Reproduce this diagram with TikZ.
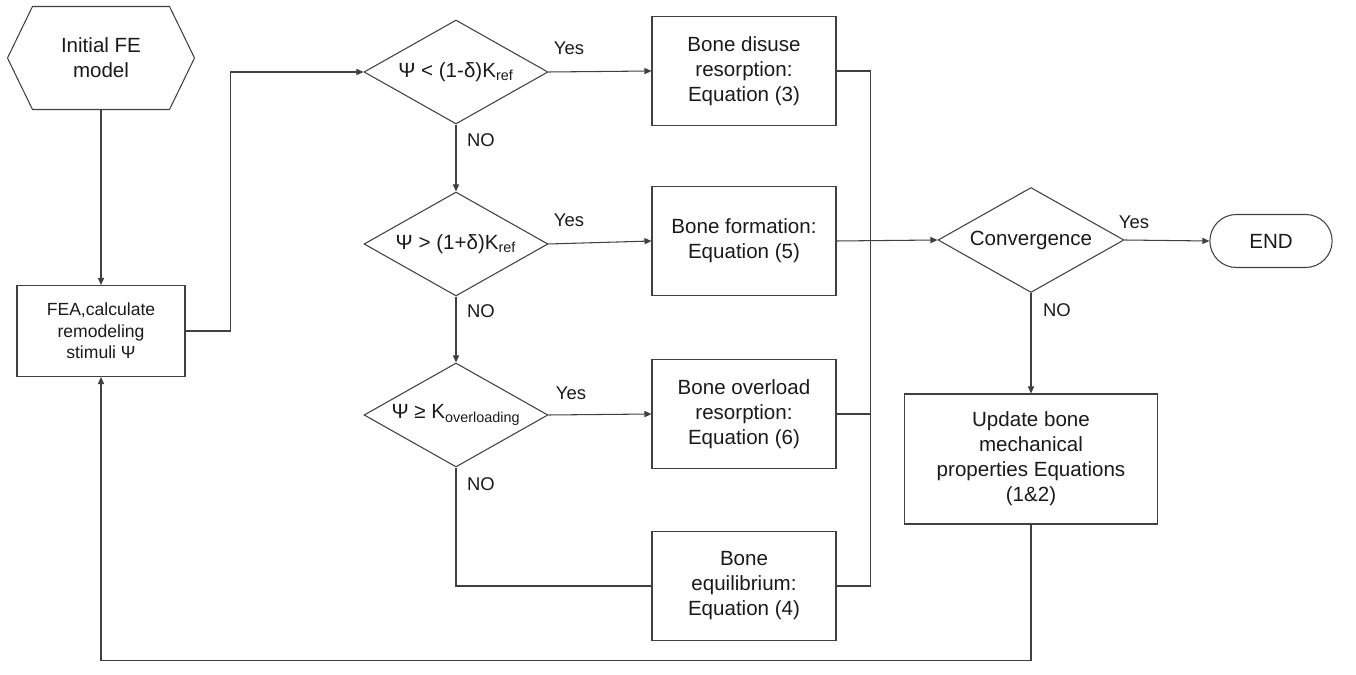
\documentclass[tikz,border=0pt]{standalone}
\usepackage{fontspec}
\setmainfont{Liberation Sans}
\usetikzlibrary{arrows.meta,shapes.geometric,shapes.misc,calc}
\definecolor{linegray}{HTML}{404040}
\definecolor{inkdark}{HTML}{1A1A1A}

\begin{document}
\begin{tikzpicture}[x=0.02cm, y=-0.02cm, line width=0.6pt, color=linegray,
  every node/.style={font=\fontsize{11.7}{14.2}\selectfont, text=inkdark, align=center},
  procbox/.style={rectangle, draw=linegray, minimum width=3.68cm, minimum height=2.18cm, inner sep=2pt},
  testbox/.style={diamond, aspect=1.75, draw=linegray, minimum width=3.68cm, minimum height=2.08cm, inner sep=0pt},
  lbl/.style={font=\fontsize{10.5}{12}\selectfont},
  arr/.style={-{Triangle[length=4pt,width=3.5pt]}},
]
\useasboundingbox (0,0) rectangle (1356,675);

% --- Start and stimulus ---
\node[minimum width=3.72cm, minimum height=2.04cm] (init) at (101,58) {Initial FE\\model};
\draw (init.west) -- ([xshift=0.5cm]init.north west) -- ([xshift=-0.5cm]init.north east)
  -- (init.east) -- ([xshift=-0.5cm]init.south east) -- ([xshift=0.5cm]init.south west) -- cycle;
\node[procbox, minimum width=3.36cm, minimum height=1.82cm,
  font=\fontsize{10}{12.3}\selectfont] (fea) at (101,331) {FEA,calculate\\remodeling\\stimuli Ψ};

% --- Decisions ---
\node[testbox] (d1) at (456,72) {Ψ < (1-δ)K\textsubscript{ref}};
\node[testbox] (d2) at (456,244) {Ψ > (1+δ)K\textsubscript{ref}};
\node[testbox] (d3) at (456,415) {Ψ ≥ K\textsubscript{overloading}};

% --- Remodeling cases ---
\node[procbox] (b1) at (744,71) {Bone disuse\\resorption:\\Equation (3)};
\node[procbox] (b2) at (744,241) {Bone formation:\\Equation (5)};
\node[procbox] (b3) at (744,414) {Bone overload\\resorption:\\Equation (6)};
\node[procbox] (b4) at (744,586) {Bone\\equilibrium:\\Equation (4)};

% --- Convergence loop ---
\node[testbox, minimum width=3.72cm, minimum height=2.1cm] (conv) at (1031,240) {Convergence};
\node[rounded rectangle, draw=linegray, minimum width=2.68cm, minimum height=1.06cm] (endn) at (1271,241) {END};
\node[procbox, minimum width=5.06cm, minimum height=2.6cm] (upd) at (1031,459)
  {Update bone\\mechanical\\properties Equations\\(1\&2)};

% Connectors
\draw[arr] (init.south) -- (fea.north);
\draw[arr] (fea.east) -- ++(45,0) |- (d1.west);
\draw[arr] (d1.east) -- (b1.west);
\draw[arr] (d1.south) -- (d2.north);
\draw[arr] (d2.east) -- (b2.west);
\draw[arr] (d2.south) -- (d3.north);
\draw[arr] (d3.east) -- (b3.west);
\draw (d3.south) |- (b4.west);
\draw (b1.east) -| ($(b4.east)+(34,0)$) -- (b4.east);
\draw (b3.east) -- ++(34,0);
\draw[arr] (b2.east) -- (conv.west);
\draw[arr] (conv.east) -- (endn.west);
\draw[arr] (conv.south) -- (upd.north);
\draw[arr] (upd.south) -- ++(0,136) -| (fea.south);

% Branch labels
\node[lbl] (yes1) at (569,48) {Yes};
\node[lbl] (yes2) at (569,220) {Yes};
\node[lbl] (yes3) at (571,393) {Yes};
\node[lbl] (yes4) at (1134,222) {Yes};
\node[lbl] (no1) at (481,140) {NO};
\node[lbl] (no2) at (481,311) {NO};
\node[lbl] (no3) at (481,484) {NO};
\node[lbl] (no4) at (1057,310) {NO};

\end{tikzpicture}
\end{document}
